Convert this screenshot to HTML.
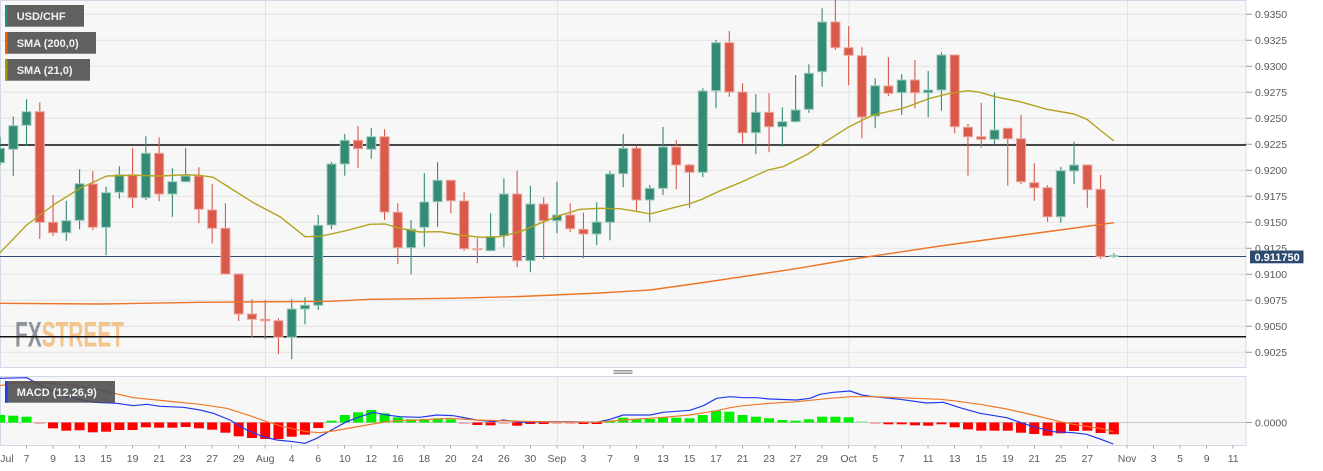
<!DOCTYPE html>
<html>
<head>
<meta charset="utf-8">
<style>
html,body{margin:0;padding:0;background:#fff;}
body{width:1323px;height:471px;overflow:hidden;}
svg{display:block;font-family:"Liberation Sans",Arial,sans-serif;}
.ax{font-size:10.5px;fill:#5a5a5a;}
.lg{font-size:11px;font-weight:bold;fill:#f2f2f2;}
</style>
</head>
<body>
<svg width="1323" height="471" viewBox="0 0 1323 471" xmlns="http://www.w3.org/2000/svg">
<defs>
<clipPath id="cm"><rect x="0" y="0" width="1246" height="367.5"/></clipPath>
<clipPath id="cd"><rect x="0" y="376.5" width="1246" height="69"/></clipPath>
</defs>

<!-- main panel -->
<rect x="0.5" y="0.5" width="1245.5" height="367" fill="#f7f7f7" stroke="#d3d8e8" stroke-width="1"/>
<g stroke="#e2e2e2" stroke-width="1">
<path d="M0 14.3H1246M0 40.3H1246M0 66.3H1246M0 92.3H1246M0 118.3H1246M0 144.3H1246M0 170.3H1246M0 196.3H1246M0 222.3H1246M0 248.3H1246M0 274.3H1246M0 300.3H1246M0 326.3H1246M0 352.3H1246"/>
<path d="M265.5 1V367M557.5 1V367M849 1V367M1127.5 1V367"/>
</g>

<!-- watermark -->
<text x="15" y="346.7" font-size="35" font-weight="bold" fill="#8f939c" textLength="26.7" lengthAdjust="spacingAndGlyphs">FX</text>
<text x="41.7" y="346.7" font-size="35" font-weight="bold" fill="#f3c48c" textLength="82.3" lengthAdjust="spacingAndGlyphs">STREET</text>

<g clip-path="url(#cm)">
<!-- horizontal lines -->
<path d="M0 145H1246M0 336.8H1246" stroke="#111" stroke-width="1.5"/>
<path d="M0 256.5H1250" stroke="#2c4a72" stroke-width="1"/>

<!-- wicks -->
<path stroke="#338a75" stroke-width="1.1" fill="none" d="M0 136.7V165M13.26 116.5V176M26.52 99.3V146M66.3 200.7V240.7M79.56 169.3V229.3M106.08 186.7V255.3M119.34 166.3V198.7M145.86 136.3V200M172.38 168.3V216.7M185.64 147.7V182M291.72 299.3V359.3M304.98 297.3V324.3M318.24 215V310M331.5 162V229.3M344.76 134V175.7M371.28 128.3V158.7M411.06 220V274.3M424.32 173.3V246.7M437.58 162.3V226.7M490.62 213.3V250.7M503.88 178.3V247.3M530.4 185.7V272.3M556.92 181.7V233.3M596.7 202.3V245.3M609.96 171V240.3M623.22 134V187.3M649.74 185V222.3M663 127V195M702.78 88.3V177.3M716.04 40V108.3M755.82 94V154.3M782.34 107.3V146.7M795.6 75V122M808.86 64.3V112.7M822.12 8.3V86.7M875.16 78.3V128.3M901.68 74V115M928.2 71V117.3M941.46 52.3V110.7M994.5 92.7V145M1060.8 166.7V222.7M1074.06 141.7V184M1113.84 253.3V257.7"/>
<path stroke="#d9594b" stroke-width="1.1" fill="none" d="M39.78 102.3V239M53.04 195.3V236M92.82 171.3V230M132.6 147.7V208.3M159.12 137.3V201.3M198.9 167.3V223.3M212.16 184.3V243.3M225.42 203.3V274M238.68 274V321M251.94 299.3V337.3M265.2 300V339.3M278.46 318.3V354.3M358.02 126V167.7M384.54 129.3V220M397.8 203.3V264.3M450.84 180.3V213.3M464.1 192.3V250.7M477.36 238.3V263.3M517.14 170.7V267.3M543.66 197.3V259.3M570.18 203.3V232.3M583.44 212.7V258.3M636.48 146V210.7M676.26 140V189.3M689.52 164V208.3M729.3 31V96.7M742.56 83.3V143.3M769.08 93.3V152.3M835.38 0V50M848.64 26V85.3M861.9 47.3V138.3M888.42 57.3V96M914.94 60V108.3M954.72 55V133.3M967.98 124V175.7M981.24 102.7V147.7M1007.76 128.3V185.7M1021.02 115V184.3M1034.28 163.3V200.7M1047.54 185.3V221.7M1087.32 165V207.7M1100.58 175V259"/>

<!-- green bodies -->
<g fill="#338a75" stroke="#9ccabb" stroke-width="1">
<rect x="-4.5" y="148.3" width="9" height="14.4"/>
<rect x="8.76" y="125.7" width="9" height="23.6"/>
<rect x="22.02" y="111.7" width="9" height="13.6"/>
<rect x="61.8" y="220.7" width="9" height="12"/>
<rect x="75.06" y="183.7" width="9" height="36.6"/>
<rect x="101.58" y="192.7" width="9" height="34.6"/>
<rect x="114.84" y="174.7" width="9" height="17.6"/>
<rect x="141.36" y="153.3" width="9" height="44.4"/>
<rect x="167.88" y="181.7" width="9" height="12.3"/>
<rect x="181.14" y="176" width="9" height="5.7"/>
<rect x="287.22" y="309" width="9" height="28.3"/>
<rect x="300.48" y="305.3" width="9" height="3.7"/>
<rect x="313.74" y="225.3" width="9" height="80"/>
<rect x="327" y="164" width="9" height="61"/>
<rect x="340.26" y="140.3" width="9" height="23.7"/>
<rect x="366.78" y="136.7" width="9" height="12.6"/>
<rect x="406.56" y="229.3" width="9" height="18.4"/>
<rect x="419.82" y="202" width="9" height="25.3"/>
<rect x="433.08" y="180.3" width="9" height="21.4"/>
<rect x="486.12" y="236.7" width="9" height="14"/>
<rect x="499.38" y="194" width="9" height="41.7"/>
<rect x="525.9" y="204" width="9" height="56.7"/>
<rect x="552.42" y="215" width="9" height="5.7"/>
<rect x="592.2" y="222" width="9" height="12"/>
<rect x="605.46" y="174" width="9" height="48.3"/>
<rect x="618.72" y="148.3" width="9" height="25.4"/>
<rect x="645.24" y="188.3" width="9" height="11.7"/>
<rect x="658.5" y="147" width="9" height="41.3"/>
<rect x="698.28" y="91" width="9" height="81.3"/>
<rect x="711.54" y="42.7" width="9" height="48"/>
<rect x="751.32" y="112.3" width="9" height="20.4"/>
<rect x="777.84" y="121.7" width="9" height="5"/>
<rect x="791.1" y="110" width="9" height="11.7"/>
<rect x="804.36" y="73.3" width="9" height="36"/>
<rect x="817.62" y="22" width="9" height="49.7"/>
<rect x="870.66" y="85.7" width="9" height="30.3"/>
<rect x="897.18" y="80" width="9" height="12.7"/>
<rect x="923.7" y="90" width="9" height="2.7"/>
<rect x="936.96" y="55" width="9" height="35"/>
<rect x="990" y="130" width="9" height="9.3"/>
<rect x="1056.3" y="170.7" width="9" height="46"/>
<rect x="1069.56" y="165" width="9" height="6"/>
<rect x="1109.34" y="255.5" width="9" height="1"/>
</g>
<!-- red bodies -->
<g fill="#d9594b" stroke="#eba59d" stroke-width="1">
<rect x="35.28" y="111.7" width="9" height="110.6"/>
<rect x="48.54" y="222.3" width="9" height="10.4"/>
<rect x="88.32" y="184" width="9" height="43.3"/>
<rect x="128.1" y="174.7" width="9" height="23"/>
<rect x="154.62" y="153.3" width="9" height="40.7"/>
<rect x="194.4" y="176" width="9" height="33.3"/>
<rect x="207.66" y="210" width="9" height="18.3"/>
<rect x="220.92" y="228.3" width="9" height="45.7"/>
<rect x="234.18" y="274" width="9" height="40"/>
<rect x="247.44" y="314" width="9" height="5.3"/>
<rect x="260.7" y="319.3" width="9" height="1.4"/>
<rect x="273.96" y="320.7" width="9" height="16.6"/>
<rect x="353.52" y="140.3" width="9" height="8.4"/>
<rect x="380.04" y="136.7" width="9" height="75.3"/>
<rect x="393.3" y="212.3" width="9" height="35.4"/>
<rect x="446.34" y="180.3" width="9" height="20.4"/>
<rect x="459.6" y="201" width="9" height="47.7"/>
<rect x="472.86" y="248.7" width="9" height="1"/>
<rect x="512.64" y="194" width="9" height="66.7"/>
<rect x="539.16" y="204" width="9" height="16.7"/>
<rect x="565.68" y="215" width="9" height="13.7"/>
<rect x="578.94" y="229.3" width="9" height="4.7"/>
<rect x="631.98" y="148.3" width="9" height="51.7"/>
<rect x="671.76" y="147" width="9" height="18"/>
<rect x="685.02" y="165" width="9" height="7.3"/>
<rect x="724.8" y="42.7" width="9" height="49.3"/>
<rect x="738.06" y="92" width="9" height="40.7"/>
<rect x="764.58" y="112.3" width="9" height="14.4"/>
<rect x="830.88" y="22" width="9" height="25.7"/>
<rect x="844.14" y="47.7" width="9" height="7.6"/>
<rect x="857.4" y="55.7" width="9" height="61.3"/>
<rect x="883.92" y="86" width="9" height="7.3"/>
<rect x="910.44" y="80" width="9" height="12.7"/>
<rect x="950.22" y="55" width="9" height="71.7"/>
<rect x="963.48" y="127.3" width="9" height="9.4"/>
<rect x="976.74" y="136.7" width="9" height="2.6"/>
<rect x="1003.26" y="128.3" width="9" height="10.4"/>
<rect x="1016.52" y="138.7" width="9" height="43"/>
<rect x="1029.78" y="182.7" width="9" height="5"/>
<rect x="1043.04" y="187.7" width="9" height="29"/>
<rect x="1082.82" y="165" width="9" height="24.7"/>
<rect x="1096.08" y="189.3" width="9" height="67.4"/>
</g>

<!-- SMA lines -->
<polyline fill="none" stroke="#b3a31f" stroke-width="1.4" stroke-linejoin="round" points="0,252.7 26.7,225 53.3,205 80,188.3 106.7,176 133.3,175.3 160,176 186.7,174.7 200,175.3 213.3,177.3 233.3,190 253.3,202.7 280,216.7 305,236.7 320,236.3 345,231 370,224.3 385,224 400,228.3 420,232 440,231.7 460,235 480,237.3 500,236.7 520,231.7 540,223.3 560,215.3 580,209.3 600,208.3 620,208.7 640,212 650,214 675,207.3 689,204 702,199.3 718,191.7 740,182.7 768,170 783,166.7 808,154 820,145.3 849,126.7 873,115 903,108.3 930,98.3 950,93.3 968,90.7 980,92.3 995,96.7 1020,101.7 1047,109.3 1074,114 1087,119.3 1100,130 1114,141"/>
<polyline fill="none" stroke="#ee7428" stroke-width="1.4" stroke-linejoin="round" points="0,303.3 100,304 200,302.3 330,301.3 370,299.3 450,298.3 520,296.5 600,293 650,290 700,283 792,269.3 850,259.5 940,246 1000,238 1060,230 1114,222.7"/>
</g>

<!-- legends -->
<rect x="5" y="5" width="79" height="21.7" fill="rgba(75,75,75,0.88)"/>
<rect x="5" y="5" width="2.5" height="21.7" fill="#2e8b74"/>
<text class="lg" x="16.7" y="19.8">USD/CHF</text>
<rect x="5" y="32" width="91" height="21.7" fill="rgba(75,75,75,0.88)"/>
<rect x="5" y="32" width="2.5" height="21.7" fill="#e8650a"/>
<text class="lg" x="16.7" y="46.8">SMA (200,0)</text>
<rect x="5" y="59" width="85" height="21.7" fill="rgba(75,75,75,0.88)"/>
<rect x="5" y="59" width="2.5" height="21.7" fill="#a89808"/>
<text class="lg" x="16.7" y="73.8">SMA (21,0)</text>

<!-- drag handle -->
<path d="M613.5 370.5H632.5M613.5 372H632.5M613.5 373.5H632.5" stroke="#777" stroke-width="0.8"/>

<!-- MACD panel -->
<rect x="0.5" y="376.5" width="1245.5" height="69" fill="#f7f7f7" stroke="#d3d8e8" stroke-width="1"/>
<path d="M265.5 377V445M557.5 377V445M849 377V445M1127.5 377V445" stroke="#e2e2e2" stroke-width="1"/>
<g clip-path="url(#cd)">
<path d="M0 422.5H1246" stroke="#c8c8c8" stroke-width="1"/>
<g fill="#00ee00">
<rect x="-5" y="415" width="10" height="7.5"/>
<rect x="8.26" y="415.7" width="10" height="6.8"/>
<rect x="21.52" y="416.7" width="10" height="5.8"/>
<rect x="326.5" y="420.7" width="10" height="1.8"/>
<rect x="339.76" y="415" width="10" height="7.5"/>
<rect x="353.02" y="412.3" width="10" height="10.2"/>
<rect x="366.28" y="410" width="10" height="12.5"/>
<rect x="379.54" y="413.3" width="10" height="9.2"/>
<rect x="392.8" y="417.3" width="10" height="5.2"/>
<rect x="406.06" y="419.3" width="10" height="3.2"/>
<rect x="419.32" y="419" width="10" height="3.5"/>
<rect x="432.58" y="418.3" width="10" height="4.2"/>
<rect x="445.84" y="419.3" width="10" height="3.2"/>
<rect x="604.96" y="420.7" width="10" height="1.8"/>
<rect x="618.22" y="417.7" width="10" height="4.8"/>
<rect x="631.48" y="419" width="10" height="3.5"/>
<rect x="644.74" y="419" width="10" height="3.5"/>
<rect x="658" y="417.3" width="10" height="5.2"/>
<rect x="671.26" y="417.7" width="10" height="4.8"/>
<rect x="684.52" y="418.3" width="10" height="4.2"/>
<rect x="697.78" y="415" width="10" height="7.5"/>
<rect x="711.04" y="410.7" width="10" height="11.8"/>
<rect x="724.3" y="411.7" width="10" height="10.8"/>
<rect x="737.56" y="415" width="10" height="7.5"/>
<rect x="750.82" y="416.7" width="10" height="5.8"/>
<rect x="764.08" y="418.3" width="10" height="4.2"/>
<rect x="777.34" y="420" width="10" height="2.5"/>
<rect x="790.6" y="420.7" width="10" height="1.8"/>
<rect x="803.86" y="419.3" width="10" height="3.2"/>
<rect x="817.12" y="416.7" width="10" height="5.8"/>
<rect x="830.38" y="416.7" width="10" height="5.8"/>
<rect x="843.64" y="417.3" width="10" height="5.2"/>
</g>
<rect x="856.9" y="421.3" width="10" height="1.2" fill="#88f088"/>
<g fill="#f3a7a7">
<rect x="34.78" y="422.5" width="10" height="1.5"/>
<rect x="459.1" y="422.5" width="10" height="1.5"/>
<rect x="498.88" y="422.5" width="10" height="1.5"/>
<rect x="551.92" y="422.5" width="10" height="1.5"/>
<rect x="565.18" y="422.5" width="10" height="1.5"/>
<rect x="870.16" y="422.5" width="10" height="1.5"/>
</g>
<g fill="#ff0000">
<rect x="48.04" y="422.5" width="10" height="5.8"/>
<rect x="61.3" y="422.5" width="10" height="8.2"/>
<rect x="74.56" y="422.5" width="10" height="7.8"/>
<rect x="87.82" y="422.5" width="10" height="9.8"/>
<rect x="101.08" y="422.5" width="10" height="9.2"/>
<rect x="114.34" y="422.5" width="10" height="7.5"/>
<rect x="127.6" y="422.5" width="10" height="7.5"/>
<rect x="140.86" y="422.5" width="10" height="4.8"/>
<rect x="154.12" y="422.5" width="10" height="5.2"/>
<rect x="167.38" y="422.5" width="10" height="5.2"/>
<rect x="180.64" y="422.5" width="10" height="4.5"/>
<rect x="193.9" y="422.5" width="10" height="5.8"/>
<rect x="207.16" y="422.5" width="10" height="7.2"/>
<rect x="220.42" y="422.5" width="10" height="10.2"/>
<rect x="233.68" y="422.5" width="10" height="13.8"/>
<rect x="246.94" y="422.5" width="10" height="15.5"/>
<rect x="260.2" y="422.5" width="10" height="16.5"/>
<rect x="273.46" y="422.5" width="10" height="16.5"/>
<rect x="286.72" y="422.5" width="10" height="14.2"/>
<rect x="299.98" y="422.5" width="10" height="12.2"/>
<rect x="313.24" y="422.5" width="10" height="5.5"/>
<rect x="472.36" y="422.5" width="10" height="2.5"/>
<rect x="485.62" y="422.5" width="10" height="2.8"/>
<rect x="512.14" y="422.5" width="10" height="3.2"/>
<rect x="525.4" y="422.5" width="10" height="1.5"/>
<rect x="538.66" y="422.5" width="10" height="1.5"/>
<rect x="578.44" y="422.5" width="10" height="1.5"/>
<rect x="591.7" y="422.5" width="10" height="1.5"/>
<rect x="883.42" y="422.5" width="10" height="1.8"/>
<rect x="896.68" y="422.5" width="10" height="1.8"/>
<rect x="909.94" y="422.5" width="10" height="2.8"/>
<rect x="923.2" y="422.5" width="10" height="3.2"/>
<rect x="936.46" y="422.5" width="10" height="1.8"/>
<rect x="949.72" y="422.5" width="10" height="4.8"/>
<rect x="962.98" y="422.5" width="10" height="6.8"/>
<rect x="976.24" y="422.5" width="10" height="8.2"/>
<rect x="989.5" y="422.5" width="10" height="8.2"/>
<rect x="1002.76" y="422.5" width="10" height="8.2"/>
<rect x="1016.02" y="422.5" width="10" height="10.2"/>
<rect x="1029.28" y="422.5" width="10" height="11.5"/>
<rect x="1042.54" y="422.5" width="10" height="13.2"/>
<rect x="1055.8" y="422.5" width="10" height="10.8"/>
<rect x="1069.06" y="422.5" width="10" height="8.5"/>
<rect x="1082.32" y="422.5" width="10" height="8.2"/>
<rect x="1095.58" y="422.5" width="10" height="10.5"/>
<rect x="1108.84" y="422.5" width="10" height="11.8"/>
</g>
<polyline fill="none" stroke="#2338ee" stroke-width="1.2" stroke-linejoin="round" points="0,378.3 26.7,377.7 43.3,386.7 66.7,396.7 93.3,402.3 116.7,403.3 133.3,405.7 146.7,404.3 160,406.3 183.3,407.3 200,410 213.3,413.3 230,420 246.7,430 263.3,436.7 276.7,440 293.3,441.7 305,443.3 316.7,438.3 333.3,429 346.7,421.7 360,416.7 373.3,412.3 386.7,415 400,416.7 420,417.3 436.7,415 453.3,415.7 476.7,420 493.3,421.7 503.3,420 520,422.3 543.3,421.7 570,421.7 596.7,422.3 610,419.3 623.3,415 650,415 663.3,412.3 690,410.3 703.3,405.7 716.7,398.3 730,396.7 743.3,397.7 756.7,397.7 770,399 796.7,400 810,398.3 820,394.3 833.3,392.3 850,391 861.7,395 873.3,396.7 900,399.3 926.7,403 943.3,402.3 960,407.7 980,413.3 1006.7,417.7 1020,422.3 1033.3,426.7 1053.3,431.7 1073.3,432.7 1086.7,434.3 1100,439 1113.3,444"/>
<polyline fill="none" stroke="#f07828" stroke-width="1.2" stroke-linejoin="round" points="0,385.7 13,383.3 33.3,382.3 66.7,384.3 100,390 133.3,397.7 166.7,401 200,404.3 226.7,408.3 250,415.7 266.7,421.7 283.3,426.7 306.7,431.7 320,432.7 333.3,431 366.7,425 393.3,420.7 420,420 450,418.3 476.7,420 510,421 543.3,421.7 596.7,422.3 623.3,420 663.3,417.3 690,415 716.7,410.7 730,407.7 743.3,405.7 770,403.3 796.7,401.7 830,398.3 850,396.7 873.3,396.7 900,397.7 940,399.3 953.3,400.7 980,404.3 1006.7,409 1033.3,415 1060,421.7 1073.3,424.3 1100,428.3 1113.3,431.7"/>
</g>
<rect x="5" y="381" width="110" height="21.7" fill="rgba(75,75,75,0.88)"/>
<rect x="5" y="381" width="2.5" height="21.7" fill="#1a3df5"/>
<text class="lg" x="16.7" y="395.8">MACD (12,26,9)</text>

<!-- y axis -->
<path stroke="#999" stroke-width="1" d="M1246 14.3H1252M1246 40.3H1252M1246 66.3H1252M1246 92.3H1252M1246 118.3H1252M1246 144.3H1252M1246 170.3H1252M1246 196.3H1252M1246 222.3H1252M1246 248.3H1252M1246 274.3H1252M1246 300.3H1252M1246 326.3H1252M1246 352.3H1252M1246 422.5H1252"/>
<g class="ax">
<text x="1255" y="18.1">0.9350</text>
<text x="1255" y="44.1">0.9325</text>
<text x="1255" y="70.1">0.9300</text>
<text x="1255" y="96.1">0.9275</text>
<text x="1255" y="122.1">0.9250</text>
<text x="1255" y="148.1">0.9225</text>
<text x="1255" y="174.1">0.9200</text>
<text x="1255" y="200.1">0.9175</text>
<text x="1255" y="226.1">0.9150</text>
<text x="1255" y="252.1">0.9125</text>
<text x="1255" y="278.1">0.9100</text>
<text x="1255" y="304.1">0.9075</text>
<text x="1255" y="330.1">0.9050</text>
<text x="1255" y="356.1">0.9025</text>
<text x="1255" y="426.3">0.0000</text>
</g>
<rect x="1250" y="250.5" width="53.5" height="12.8" fill="#2d4b71"/>
<text x="1254.5" y="260.9" font-size="11" font-weight="bold" fill="#fff">0.911750</text>

<!-- x axis -->
<path stroke="#aaa" stroke-width="1" d="M26.5 445.5V448.5M53 445.5V448.5M79.5 445.5V448.5M106 445.5V448.5M132.5 445.5V448.5M159 445.5V448.5M185.5 445.5V448.5M212 445.5V448.5M238.5 445.5V448.5M265 445.5V448.5M291.5 445.5V448.5M318 445.5V448.5M344.5 445.5V448.5M371 445.5V448.5M397.5 445.5V448.5M424 445.5V448.5M450.5 445.5V448.5M477 445.5V448.5M504 445.5V448.5M530.5 445.5V448.5M557 445.5V448.5M583.5 445.5V448.5M610 445.5V448.5M636.5 445.5V448.5M663 445.5V448.5M689.5 445.5V448.5M716 445.5V448.5M742.5 445.5V448.5M769 445.5V448.5M795.5 445.5V448.5M822 445.5V448.5M848.5 445.5V448.5M875 445.5V448.5M901.5 445.5V448.5M928 445.5V448.5M954.5 445.5V448.5M981 445.5V448.5M1008 445.5V448.5M1034.5 445.5V448.5M1061 445.5V448.5M1087.5 445.5V448.5M1127 445.5V448.5M1153.5 445.5V448.5M1180 445.5V448.5M1206.5 445.5V448.5M1233 445.5V448.5"/>
<g class="ax" text-anchor="middle">
<text x="7" y="462">Jul</text>
<text x="26.5" y="462">7</text>
<text x="53" y="462">9</text>
<text x="79.6" y="462">13</text>
<text x="106.1" y="462">15</text>
<text x="132.6" y="462">19</text>
<text x="159.1" y="462">21</text>
<text x="185.6" y="462">23</text>
<text x="212.2" y="462">27</text>
<text x="238.7" y="462">29</text>
<text x="265.2" y="462">Aug</text>
<text x="291.7" y="462">4</text>
<text x="318.2" y="462">6</text>
<text x="344.8" y="462">10</text>
<text x="371.3" y="462">12</text>
<text x="397.8" y="462">16</text>
<text x="424.3" y="462">18</text>
<text x="450.8" y="462">20</text>
<text x="477.4" y="462">24</text>
<text x="503.9" y="462">26</text>
<text x="530.4" y="462">30</text>
<text x="556.9" y="462">Sep</text>
<text x="583.4" y="462">3</text>
<text x="610" y="462">7</text>
<text x="636.5" y="462">9</text>
<text x="663" y="462">13</text>
<text x="689.5" y="462">15</text>
<text x="716" y="462">17</text>
<text x="742.6" y="462">21</text>
<text x="769.1" y="462">23</text>
<text x="795.6" y="462">27</text>
<text x="822.1" y="462">29</text>
<text x="848.6" y="462">Oct</text>
<text x="875.2" y="462">5</text>
<text x="901.7" y="462">7</text>
<text x="928.2" y="462">11</text>
<text x="954.7" y="462">13</text>
<text x="981.2" y="462">15</text>
<text x="1007.8" y="462">19</text>
<text x="1034.3" y="462">21</text>
<text x="1060.8" y="462">25</text>
<text x="1087.3" y="462">27</text>
<text x="1127.1" y="462">Nov</text>
<text x="1153.6" y="462">3</text>
<text x="1180.1" y="462">5</text>
<text x="1206.7" y="462">9</text>
<text x="1233.2" y="462">11</text>
</g>
</svg>
</body>
</html>
